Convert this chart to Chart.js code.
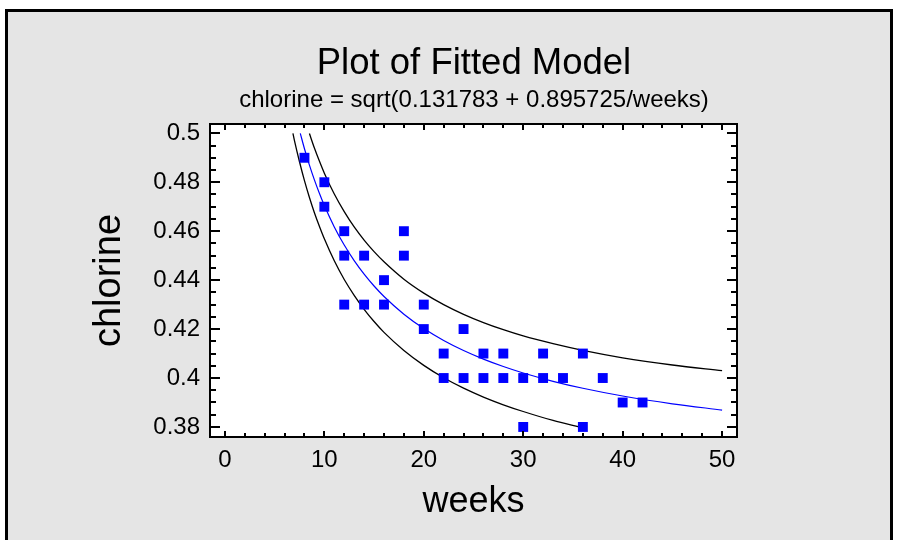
<!DOCTYPE html>
<html><head><meta charset="utf-8">
<script src="https://cdn.jsdelivr.net/npm/chart.js@4/dist/chart.umd.min.js"></script>
<style>html,body{margin:0;padding:0;background:#fff}canvas{display:block}</style>
</head><body>
<canvas id="c" width="897" height="540"></canvas>
<script>
// ---- text ----
const titleText = 'Plot of Fitted Model';
const subtitleText = 'chlorine = sqrt(0.131783 + 0.895725/weeks)';
const xAxisTitle = 'weeks';
const yAxisTitle = 'chlorine';

// ---- tick labels ----
const xTicks = [0, 10, 20, 30, 40, 50];
const yTicks = [0.38, 0.40, 0.42, 0.44, 0.46, 0.48, 0.50];

// ---- observations ----
const obsWeeks    = [8,    10,   10,   12,   12,   12,   14,   14,   16,   16,   18,   18,   20,   20,   22,   22,   24,   24,   26,   26,   28,   28,   30,   30,   32,   32,   34,   36,   36,   38,   40,   42];
const obsChlorine = [0.49, 0.48, 0.47, 0.46, 0.45, 0.43, 0.45, 0.43, 0.44, 0.43, 0.46, 0.45, 0.43, 0.42, 0.41, 0.40, 0.42, 0.40, 0.41, 0.40, 0.41, 0.40, 0.40, 0.38, 0.41, 0.40, 0.40, 0.41, 0.38, 0.40, 0.39, 0.39];

// ---- fitted curve (blue) ----
const fitWeeks    = [7.58, 8, 8.5, 9, 9.5, 10, 11, 12, 13, 14, 15, 16, 18, 20, 22, 24, 26, 28, 30, 33, 36, 40, 45, 50];
const fitChlorine = [0.5000, 0.4937, 0.4870, 0.48095, 0.47547, 0.47048, 0.46175, 0.45434, 0.44798, 0.44245, 0.43761, 0.43332, 0.42608, 0.42020, 0.41533, 0.41122, 0.40772, 0.40469, 0.40205, 0.39866, 0.39581, 0.39265, 0.38947, 0.38691];

// ---- upper limit (black) ----
const upperWeeks    = [8.5, 9, 9.5, 10, 11, 12, 13, 14, 15, 16, 18, 20, 22, 24, 26, 28, 30, 33, 36, 40, 45, 50];
const upperChlorine = [0.4999, 0.49397, 0.48864, 0.48369, 0.47520, 0.46800, 0.46172, 0.45636, 0.45166, 0.44751, 0.44039, 0.43471, 0.43000, 0.42603, 0.42265, 0.41973, 0.41718, 0.41404, 0.41130, 0.40826, 0.40532, 0.40299];

// ---- lower limit (black) ----
const lowerWeeks    = [6.84, 7, 7.5, 8, 8.5, 9, 9.5, 10, 11, 12, 13, 14, 15, 16, 18, 20, 22, 24, 26, 28, 30, 33, 35.8];
const lowerChlorine = [0.5000, 0.49693, 0.48838, 0.48068, 0.47377, 0.46756, 0.46203, 0.45690, 0.44790, 0.44026, 0.43380, 0.42809, 0.42308, 0.41865, 0.41127, 0.40518, 0.40012, 0.39586, 0.39222, 0.38907, 0.38632, 0.38266, 0.37987];

const toXY = (xs, ys) => xs.map((x, i) => ({ x: x, y: ys[i] }));
const FONT = "'Liberation Sans', Arial, Helvetica, sans-serif";

const frameAndTicks = {
  id: 'frameAndTicks',
  beforeDraw(chart) {
    const ctx = chart.ctx, a = chart.chartArea;
    ctx.save();
    ctx.fillStyle = '#ffffff';
    ctx.fillRect(0, 0, chart.width, chart.height);
    ctx.fillStyle = '#e5e5e5';
    ctx.fillRect(6, 10, 885, 600);
    ctx.strokeStyle = '#000000';
    ctx.lineWidth = 3;
    ctx.strokeRect(6.5, 10.5, 885, 600);
    ctx.fillStyle = '#ffffff';
    ctx.fillRect(a.left, a.top, a.right - a.left, a.bottom - a.top);
    ctx.restore();
  },
  afterDraw(chart) {
    const ctx = chart.ctx, a = chart.chartArea;
    const xs = chart.scales.x, ys = chart.scales.y;
    ctx.save();
    ctx.strokeStyle = '#000000';
    ctx.lineWidth = 2;
    ctx.beginPath();
    // x ticks (bottom & top), every 2 weeks, major every 10
    for (let k = 0; k <= 25; k++) {
      const v = k * 2;
      const px = Math.round(xs.getPixelForValue(v));
      const len = (v % 10 === 0) ? 6 : 4;
      ctx.moveTo(px, a.bottom); ctx.lineTo(px, a.bottom - len);
      ctx.moveTo(px, a.top); ctx.lineTo(px, a.top + len);
    }
    // y ticks (left & right), every 0.005, major every 0.02
    for (let k = 0; k <= 24; k++) {
      const v = 0.38 + k * 0.005;
      const py = Math.round(ys.getPixelForValue(v));
      const len = (k % 4 === 0) ? 10 : 6;
      ctx.moveTo(a.left, py); ctx.lineTo(a.left + len, py);
      ctx.moveTo(a.right, py); ctx.lineTo(a.right - len, py);
    }
    ctx.stroke();
    ctx.strokeRect(a.left, a.top, a.right - a.left, a.bottom - a.top);
    ctx.restore();
  }
};

new Chart(document.getElementById('c'), {
  type: 'scatter',
  data: {
    datasets: [
      {
        label: 'observed',
        data: toXY(obsWeeks, obsChlorine),
        pointStyle: 'rect',
        pointRadius: 7,
        pointHoverRadius: 7,
        backgroundColor: '#0000ff',
        borderWidth: 0,
        showLine: false,
        order: 0
      },
      {
        label: 'fitted',
        data: toXY(fitWeeks, fitChlorine),
        showLine: true,
        borderColor: '#0000ff',
        borderWidth: 1.2,
        pointRadius: 0,
        cubicInterpolationMode: 'monotone',
        fill: false,
        order: 1
      },
      {
        label: 'upper',
        data: toXY(upperWeeks, upperChlorine),
        showLine: true,
        borderColor: '#000000',
        borderWidth: 1.3,
        pointRadius: 0,
        cubicInterpolationMode: 'monotone',
        fill: false,
        order: 2
      },
      {
        label: 'lower',
        data: toXY(lowerWeeks, lowerChlorine),
        showLine: true,
        borderColor: '#000000',
        borderWidth: 1.3,
        pointRadius: 0,
        cubicInterpolationMode: 'monotone',
        fill: false,
        order: 3
      }
    ]
  },
  options: {
    responsive: false,
    animation: false,
    devicePixelRatio: 1,
    layout: { padding: { left: 51, right: 0, top: 0, bottom: 0 } },
    plugins: {
      legend: { display: false },
      tooltip: { enabled: false },
      title: {
        display: true,
        text: titleText,
        color: '#000000',
        font: { family: FONT, size: 36.5, weight: 'normal', lineHeight: 1.2 },
        padding: { top: 42, bottom: 0 }
      },
      subtitle: {
        display: true,
        text: subtitleText,
        color: '#000000',
        font: { family: FONT, size: 24, weight: 'normal', lineHeight: 1.2 },
        padding: { top: 0, bottom: 9.4 }
      }
    },
    scales: {
      x: {
        type: 'linear',
        position: 'bottom',
        min: -1.5,
        max: 51.5,
        grid: { display: false, drawTicks: false, tickLength: 0 },
        border: { display: false },
        afterBuildTicks: s => { s.ticks = xTicks.map(v => ({ value: v })); },
        afterFit: s => { s.height = 103; },
        ticks: {
          autoSkip: false,
          maxRotation: 0,
          padding: 8.6,
          color: '#000000',
          font: { family: FONT, size: 24, lineHeight: 1.2 },
          callback: v => String(v)
        },
        title: {
          display: true,
          text: xAxisTitle,
          color: '#000000',
          font: { family: FONT, size: 36, lineHeight: 1.2 },
          padding: { top: 0, bottom: 15.9 }
        }
      },
      y: {
        type: 'linear',
        position: 'left',
        min: 0.3759,
        max: 0.5038,
        grid: { display: false, drawTicks: false, tickLength: 0 },
        border: { display: false },
        afterBuildTicks: s => { s.ticks = yTicks.map(v => ({ value: v })); },
        afterFit: s => { s.width = 159; },
        ticks: {
          autoSkip: false,
          padding: 10,
          color: '#000000',
          font: { family: FONT, size: 24, lineHeight: 1.2 },
          callback: v => String(Number(v.toFixed(3)))
        },
        title: {
          display: true,
          text: yAxisTitle,
          color: '#000000',
          font: { family: FONT, size: 38, lineHeight: 1.2 },
          padding: { top: 36.2, bottom: 0 }
        }
      },
      yR: {
        type: 'linear',
        position: 'right',
        min: 0.3759,
        max: 0.5038,
        grid: { display: false, drawTicks: false, tickLength: 0 },
        border: { display: false },
        ticks: { display: false },
        afterFit: s => { s.width = 160; }
      }
    }
  },
  plugins: [frameAndTicks]
});
</script>
</body></html>
